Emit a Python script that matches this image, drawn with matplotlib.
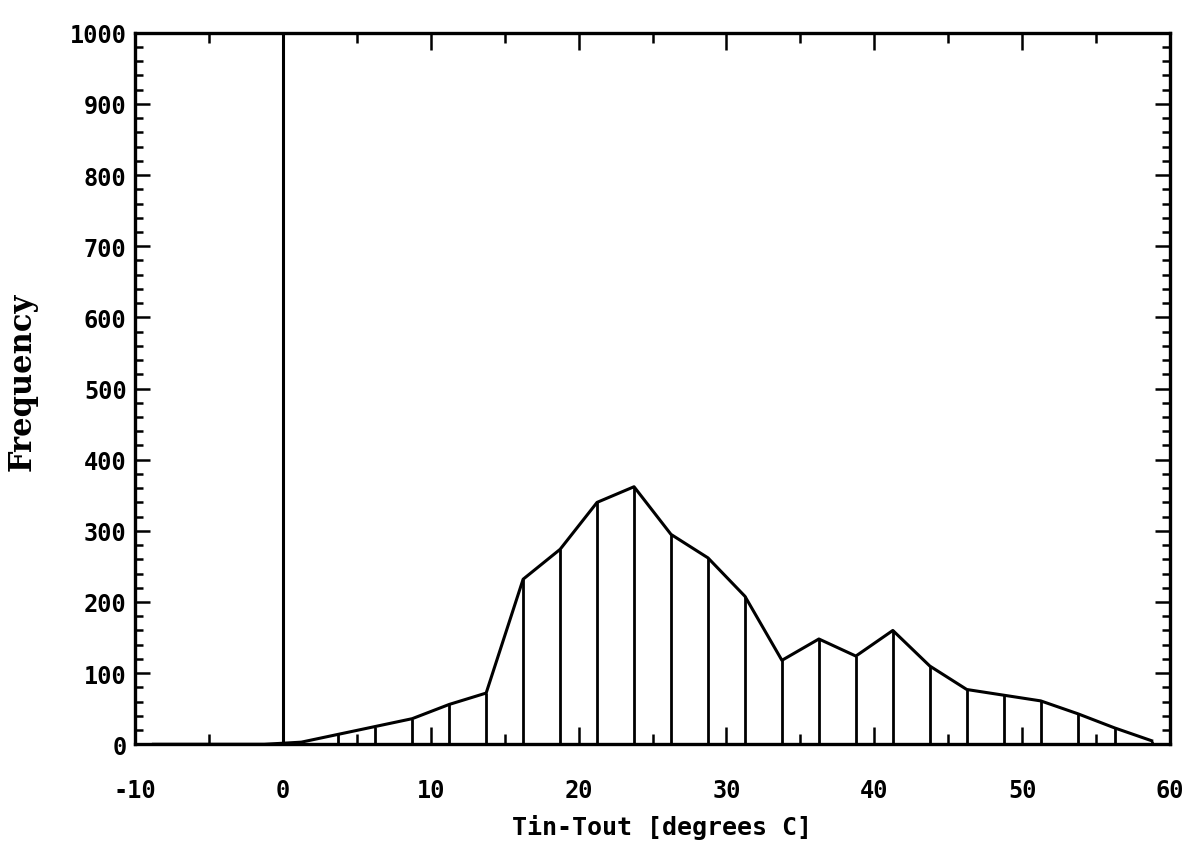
import numpy as np
import matplotlib
matplotlib.use("Agg")
import matplotlib.pyplot as plt
from matplotlib.ticker import MultipleLocator

plt.rcParams['axes.unicode_minus'] = False

# bin centres [degrees C] and counts
temp = [-8.75, -6.25, -3.75, -1.25, 1.25, 3.75, 6.25, 8.75, 11.25, 13.75,
        16.25, 18.75, 21.25, 23.75, 26.25, 28.75, 31.25, 33.75, 36.25,
        38.75, 41.25, 43.75, 46.25, 48.75, 51.25, 53.75, 56.25, 58.75]
freq = [0, 0, 0, 0, 3, 14, 25, 36, 56, 72,
        232, 274, 340, 362, 295, 262, 208, 118, 148,
        124, 160, 110, 77, 69, 61, 43, 23, 5]

# off-scale spike at Tin-Tout = 0
spike_x = 0.0
spike_val = 1000

xticks = [-10, 0, 10, 20, 30, 40, 50, 60]
xticklabels = ['-10', '0', '10', '20', '30', '40', '50', '60']
yticks = [0, 100, 200, 300, 400, 500, 600, 700, 800, 900, 1000]

fig = plt.figure(figsize=(11.94, 8.45), dpi=100)
ax = fig.add_axes([0.113, 0.118, 0.867, 0.842])

ax.plot(temp, freq, color='black', lw=2.2, solid_joinstyle='round')
ax.vlines(temp, 0, freq, color='black', lw=2.0)
ax.vlines([spike_x], 0, [spike_val], color='black', lw=2.2)

ax.set_xlim(-10, 60)
ax.set_ylim(0, 1000)

ax.set_xticks(xticks)
ax.set_xticklabels(xticklabels)
ax.xaxis.set_minor_locator(MultipleLocator(5))
ax.set_yticks(yticks)
ax.yaxis.set_minor_locator(MultipleLocator(20))

ax.tick_params(which='both', direction='in', top=True, right=True, width=1.8,
               color='black')
ax.tick_params(axis='x', which='major', length=12, pad=24)
ax.tick_params(axis='x', which='minor', length=7)
ax.tick_params(axis='y', which='major', length=11, pad=6)
ax.tick_params(axis='y', which='minor', length=6)

for lab in ax.get_xticklabels() + ax.get_yticklabels():
    lab.set_fontfamily('DejaVu Sans Mono')
    lab.set_fontweight('bold')
    lab.set_fontsize(17)

for s in ax.spines.values():
    s.set_linewidth(2.4)

fig.text(662 / 1194, 1 - 828 / 845, 'Tin-Tout [degrees C]', ha='center', va='center',
         fontfamily='DejaVu Sans Mono', fontweight='bold', fontsize=18)
fig.text(22 / 1194, 1 - 382 / 845, 'Frequency', ha='center', va='center',
         rotation=90, fontfamily='DejaVu Serif', fontweight='bold', fontsize=22)

fig.savefig('out.png', dpi=100)
